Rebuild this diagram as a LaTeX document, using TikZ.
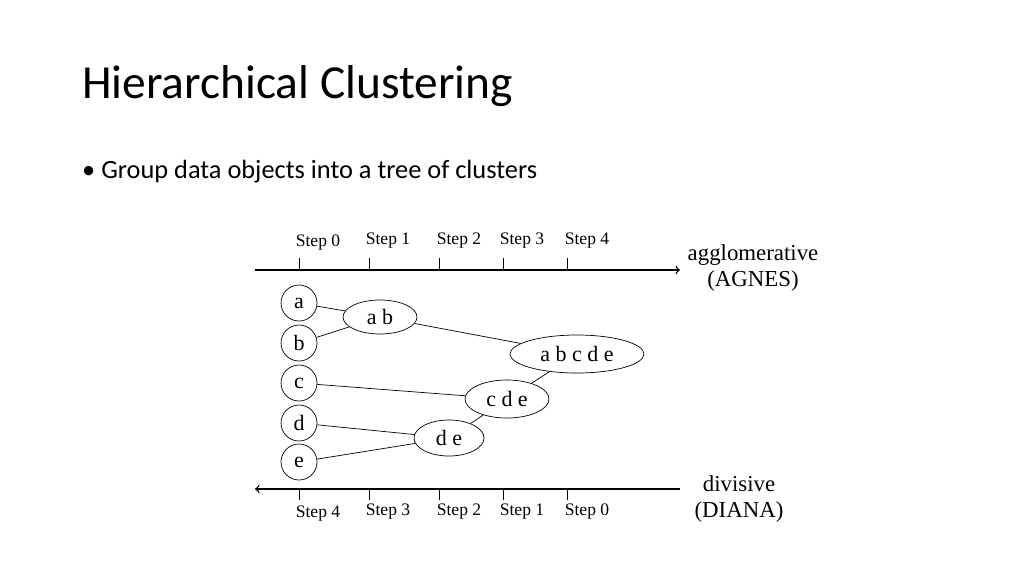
\documentclass[tikz,border=0pt]{standalone}
\usepackage{fontspec}
\setmainfont{Liberation Serif}
\newfontfamily\slidefont{Carlito}
\usetikzlibrary{shapes,positioning,calc}
\tikzset{
  leaf/.style={draw, circle, minimum size=0.72cm, inner sep=0pt, font=\fontsize{12.5}{13}\selectfont},
  merged/.style={draw, ellipse, inner sep=0pt, font=\fontsize{12.5}{13}\selectfont},
  steplbl/.style={font=\fontsize{10}{11}\selectfont},
  sidelbl/.style={font=\fontsize{13}{15}\selectfont}
}
\begin{document}
\begin{tikzpicture}[x=0.02cm, y=-0.02cm, every node/.style={font=\small}]
    \useasboundingbox (0,0) rectangle (1024,576);
    % Title and bullet
    \node[anchor=west, font=\slidefont\fontsize{27}{30}\selectfont] (title) at (76,86) {Hierarchical Clustering};
    \node[anchor=west, font=\slidefont\fontsize{15}{18}\selectfont] (bullet) at (76,172) {\textbullet\ Group data objects into a tree of clusters};

    % Axes
    \coordinate (t0) at (255,270); \coordinate (t1) at (680,270);
    \coordinate (b0) at (680,489); \coordinate (b1) at (255,489);
    \draw[->, thick] (t0) -- (t1);
    \draw[->, thick] (b0) -- (b1);
    \foreach \x in {299,369,439,503,567} {
        \draw (\x,258) -- (\x,270);
        \draw (\x,489) -- (\x,500);
    }
    \foreach \x/\y/\s in {318/243/0, 388/241/1, 459/241/2, 522/241/3, 587/241/4}
        \node[steplbl] (top\s) at (\x,\y) {Step \s};
    \foreach \x/\y/\s in {318/514/4, 388/512/3, 459/512/2, 522/512/1, 587/512/0}
        \node[steplbl] (bot\s) at (\x,\y) {Step \s};
    \node[sidelbl, align=center] (agnes) at (753,268) {agglomerative\\(AGNES)};
    \node[sidelbl, align=center] (diana) at (739,499) {divisive\\(DIANA)};

    % Objects
    \node[leaf] (a) at (299,303) {a};
    \node[leaf] (b) at (299,343) {b};
    \node[leaf] (c) at (299,383) {c};
    \node[leaf] (d) at (299,423) {d};
    \node[leaf] (e) at (299,462) {e};

    % Clusters
    \node[merged, minimum width=1.48cm, minimum height=0.68cm] (ab) at (380,317) {a b};
    \node[merged, minimum width=2.68cm, minimum height=0.76cm] (abcde) at (577,354) {a b c d e};
    \node[merged, minimum width=1.68cm, minimum height=0.76cm] (cde) at (507,399) {c d e};
    \node[merged, minimum width=1.4cm, minimum height=0.72cm] (de) at (449,438) {d e};

    % Links
    \draw (a) -- (ab);
    \draw (b) -- (ab);
    \draw (ab) -- (abcde);
    \draw (c) -- (cde);
    \draw (cde) -- (abcde);
    \draw (d) -- (de);
    \draw (e) -- (de);
    \draw (de) -- (cde);
\end{tikzpicture}
\end{document}
